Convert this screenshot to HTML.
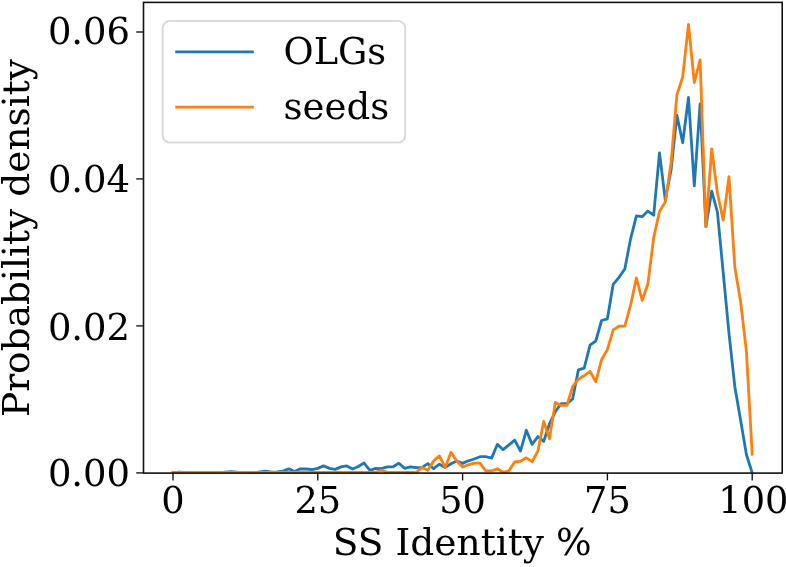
<!DOCTYPE html>
<html lang="en"><head><meta charset="utf-8"><title>SS Identity distribution</title>
<style>html,body{margin:0;padding:0;background:#fff;}body{width:786px;height:567px;overflow:hidden;}</style>
</head><body>
<svg width="786" height="567" viewBox="0 0 786 567" style="display:block">
<rect x="0" y="0" width="786" height="567" fill="#ffffff"/>
<defs><clipPath id="ax"><rect x="143.5" y="2.4" width="638.7" height="470.70000000000005"/></clipPath></defs>
<g font-family="'DejaVu Serif', 'Liberation Serif', serif" font-size="37.5px" fill="#000">
<line x1="173.0" y1="473.1" x2="173.0" y2="480.40000000000003" stroke="#111" stroke-width="1.35"/>
<text transform="translate(173.0,512.8) scale(0.98,1.0)" text-anchor="middle">0</text>
<line x1="317.8" y1="473.1" x2="317.8" y2="480.40000000000003" stroke="#111" stroke-width="1.35"/>
<text transform="translate(317.8,512.8) scale(0.98,1.0)" text-anchor="middle">25</text>
<line x1="462.6" y1="473.1" x2="462.6" y2="480.40000000000003" stroke="#111" stroke-width="1.35"/>
<text transform="translate(462.6,512.8) scale(0.98,1.0)" text-anchor="middle">50</text>
<line x1="607.4" y1="473.1" x2="607.4" y2="480.40000000000003" stroke="#111" stroke-width="1.35"/>
<text transform="translate(607.4,512.8) scale(0.98,1.0)" text-anchor="middle">75</text>
<line x1="752.2" y1="473.1" x2="752.2" y2="480.40000000000003" stroke="#111" stroke-width="1.35"/>
<text transform="translate(753.4,512.8) scale(0.98,1.0)" text-anchor="middle">100</text>
<line x1="136.2" y1="472.9" x2="143.5" y2="472.9" stroke="#111" stroke-width="1.35"/>
<text transform="translate(130.1,485.8) scale(0.985,1)" text-anchor="end">0.00</text>
<line x1="136.2" y1="325.9" x2="143.5" y2="325.9" stroke="#111" stroke-width="1.35"/>
<text transform="translate(130.1,339.5) scale(0.985,1)" text-anchor="end">0.02</text>
<line x1="136.2" y1="178.9" x2="143.5" y2="178.9" stroke="#111" stroke-width="1.35"/>
<text transform="translate(130.1,192.0) scale(0.985,1)" text-anchor="end">0.04</text>
<line x1="136.2" y1="32.0" x2="143.5" y2="32.0" stroke="#111" stroke-width="1.35"/>
<text transform="translate(130.1,44.3) scale(0.985,1)" text-anchor="end">0.06</text>
<text x="462.2" y="555.2" text-anchor="middle">SS Identity %</text>
<text transform="translate(29.3,238) rotate(-90)" text-anchor="middle">Probability density</text>
</g>
<g clip-path="url(#ax)" fill="none" stroke-width="2.8" stroke-linejoin="round" stroke-linecap="square">
<polyline stroke="#1f77b4" points="173.0,472.9 178.8,472.1 184.6,472.5 190.4,472.8 196.2,472.8 202.0,472.8 207.8,472.8 213.5,472.8 219.3,472.8 225.1,472.1 230.9,471.6 236.7,472.1 242.5,472.8 248.3,472.8 254.1,472.8 259.9,471.9 265.7,471.1 271.5,472.1 277.3,471.9 283.0,471.1 288.8,468.8 294.6,471.6 300.4,468.8 306.2,469.0 312.0,469.7 317.8,468.4 323.6,465.9 329.4,468.4 335.2,469.4 341.0,466.9 346.8,465.9 352.6,469.0 358.3,466.5 364.1,463.0 369.9,470.4 375.7,468.4 381.5,468.7 387.3,466.8 393.1,466.8 398.9,463.3 404.7,468.4 410.5,466.8 416.3,467.7 422.1,467.4 427.8,463.6 433.6,468.7 439.4,464.2 445.2,467.4 451.0,463.8 456.8,461.0 462.6,463.4 468.4,460.8 474.2,459.0 480.0,456.7 485.8,456.7 491.6,458.1 497.4,444.4 503.1,449.7 508.9,444.9 514.7,440.1 520.5,451.1 526.3,430.3 532.1,444.4 537.9,436.6 543.7,441.4 549.5,423.7 555.3,411.8 561.1,403.6 566.9,403.6 572.6,399.0 578.4,369.9 584.2,368.2 590.0,345.2 595.8,341.0 601.6,320.5 607.4,318.8 613.2,284.3 619.0,277.4 624.8,269.0 630.6,238.8 636.4,215.9 642.2,216.7 647.9,211.1 653.7,215.2 659.5,152.9 665.3,200.0 671.1,170.1 676.9,115.2 682.7,142.8 688.5,97.5 694.3,185.9 700.1,104.0 705.9,226.7 711.7,191.2 717.4,212.0 723.2,272.5 729.0,333.5 734.8,386.4 740.6,419.9 746.4,454.5 752.2,472.9"/>
<polyline stroke="#ff7f0e" points="173.0,472.3 178.8,472.3 184.6,472.3 190.4,472.3 196.2,472.3 202.0,472.3 207.8,472.3 213.5,472.3 219.3,472.3 225.1,472.3 230.9,472.3 236.7,472.3 242.5,472.3 248.3,472.3 254.1,472.3 259.9,472.3 265.7,472.3 271.5,472.3 277.3,472.3 283.0,472.3 288.8,472.3 294.6,472.3 300.4,472.3 306.2,472.3 312.0,472.3 317.8,472.3 323.6,472.3 329.4,472.3 335.2,472.3 341.0,472.3 346.8,472.3 352.6,472.3 358.3,472.3 364.1,472.3 369.9,472.3 375.7,472.3 381.5,470.2 387.3,472.3 393.1,472.3 398.9,472.3 404.7,472.3 410.5,472.3 416.3,472.3 422.1,467.4 427.8,470.2 433.6,461.0 439.4,455.9 445.2,467.4 451.0,452.2 456.8,461.0 462.6,467.0 468.4,464.8 474.2,463.1 480.0,463.1 485.8,470.8 491.6,470.8 497.4,468.7 503.1,472.3 508.9,470.8 514.7,462.0 520.5,461.3 526.3,457.8 532.1,461.7 537.9,451.1 543.7,421.4 549.5,438.7 555.3,402.4 561.1,405.4 566.9,405.4 572.6,386.7 578.4,379.3 584.2,375.6 590.0,371.4 595.8,381.7 601.6,359.5 607.4,349.6 613.2,329.9 619.0,326.2 624.8,326.2 630.6,305.2 636.4,278.0 642.2,300.4 647.9,283.8 653.7,237.5 659.5,211.5 665.3,202.0 671.1,162.7 676.9,94.9 682.7,76.9 688.5,24.3 694.3,82.5 700.1,59.9 705.9,226.7 711.7,148.8 717.4,192.8 723.2,220.2 729.0,176.7 734.8,267.0 740.6,301.5 746.4,351.1 752.2,454.2"/>
</g>
<rect x="143.5" y="2.4" width="638.7" height="470.70000000000005" fill="none" stroke="#111" stroke-width="1.6"/>
<rect x="162.7" y="21.1" width="242.5" height="121.4" rx="7" ry="7" fill="#ffffff" fill-opacity="0.8" stroke="#cccccc" stroke-opacity="0.72" stroke-width="2.0"/>
<line x1="176.6" y1="51.8" x2="252.4" y2="51.8" stroke="#1f77b4" stroke-width="2.8" stroke-linecap="square"/>
<line x1="176.6" y1="107.1" x2="252.4" y2="107.1" stroke="#ff7f0e" stroke-width="2.8" stroke-linecap="square"/>
<g font-family="'DejaVu Serif', 'Liberation Serif', serif" font-size="37.5px" fill="#000">
<text transform="translate(283.6,63.8) scale(0.979,1)">OLGs</text>
<text transform="translate(283.6,118.7) scale(0.988,1)">seeds</text>
</g>
</svg>
</body></html>
